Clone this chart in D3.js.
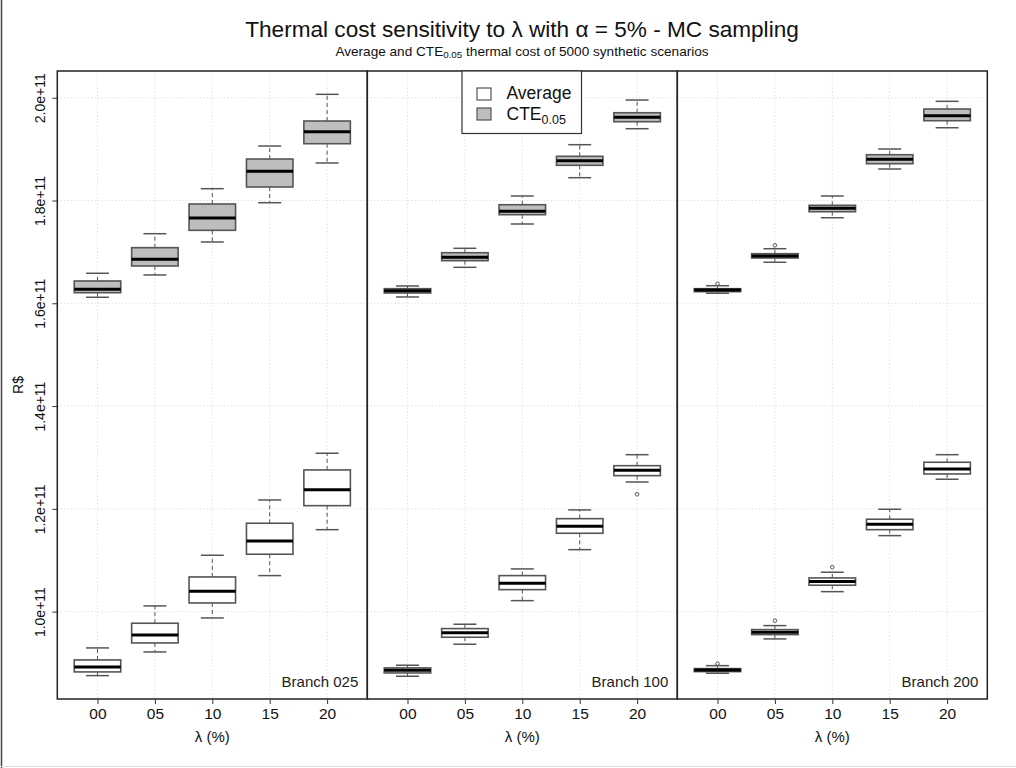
<!DOCTYPE html>
<html>
<head>
<meta charset="utf-8">
<script src="https://cdn.jsdelivr.net/npm/d3@7"></script>
<style>
  html, body { margin: 0; padding: 0; background: #fff; }
  svg { display: block; font-family: "Liberation Sans", Arial, Helvetica, sans-serif; }
</style>
</head>
<body>
<svg id="chart" width="1016" height="768"></svg>
<script>
// Thermal cost (billions of R$) per branch and λ level.
// Each row is a five-number summary: [lower whisker, Q1, median, Q3, upper whisker].
const branches = ["Branch 025", "Branch 100", "Branch 200"];
const lambdas = ["00", "05", "10", "15", "20"];
const yTickValues = [1.0e11, 1.2e11, 1.4e11, 1.6e11, 1.8e11, 2.0e11];
const yTickLabels = ["1.0e+11", "1.2e+11", "1.4e+11", "1.6e+11", "1.8e+11", "2.0e+11"];
const seriesNames = ["Average", "CTE"];

const avgBranch025 = [
  [87.55, 88.27, 89.24, 90.60, 92.94],
  [92.16, 93.91, 95.47, 97.74, 101.11],
  [98.77, 101.69, 103.97, 106.75, 110.97],
  [107.01, 111.17, 113.75, 117.20, 121.73],
  [115.95, 120.62, 123.74, 127.57, 130.82]
];
const cteBranch025 = [
  [161.17, 162.06, 162.72, 164.34, 165.84],
  [165.51, 167.26, 168.56, 170.82, 173.54],
  [171.93, 174.20, 176.60, 179.32, 182.30],
  [179.57, 182.63, 185.68, 188.07, 190.60],
  [187.30, 191.05, 193.39, 195.47, 200.66]
];
const avgBranch100 = [
  [87.43, 88.07, 88.60, 89.05, 89.57],
  [93.66, 95.02, 95.91, 96.70, 97.55],
  [102.14, 104.28, 105.53, 107.01, 108.31],
  [112.06, 115.25, 116.62, 118.09, 119.79],
  [125.23, 126.46, 127.51, 128.40, 130.54]
];
const cteBranch100 = [
  [161.23, 162.00, 162.45, 162.84, 163.37],
  [167.00, 168.29, 168.95, 169.84, 170.70],
  [175.43, 177.24, 177.90, 179.18, 180.88],
  [184.44, 186.85, 187.74, 188.60, 190.86],
  [193.97, 195.33, 196.19, 197.08, 199.55]
];
const avgBranch200 = [
  [88.01, 88.33, 88.66, 88.91, 89.49],
  [94.69, 95.53, 95.99, 96.50, 97.28],
  [103.89, 105.14, 105.84, 106.56, 107.67],
  [114.79, 115.95, 117.01, 117.98, 119.92],
  [125.76, 126.79, 127.76, 129.07, 130.54]
];
const cteBranch200 = [
  [161.95, 162.26, 162.59, 162.84, 163.42],
  [167.98, 168.81, 169.20, 169.65, 170.62],
  [176.65, 177.82, 178.48, 179.07, 180.88],
  [186.13, 187.16, 188.02, 188.91, 190.02],
  [194.16, 195.53, 196.50, 197.80, 199.30]
];
// Outlying scenarios: [branch index, series, λ, value in billions]
const outliers = [
  [1, "Average", "20", 122.84],
  [2, "Average", "00", 89.88],
  [2, "Average", "05", 98.25],
  [2, "Average", "10", 108.64],
  [2, "CTE", "00", 163.81],
  [2, "CTE", "05", 171.28]
];

const panelData = [
  { Average: avgBranch025, CTE: cteBranch025 },
  { Average: avgBranch100, CTE: cteBranch100 },
  { Average: avgBranch200, CTE: cteBranch200 }
];
const fills = { Average: "#ffffff", CTE: "#bebebe" };

const svg = d3.select("#chart");
const W = 1016, H = 768;
const plotTop = 71, plotBottom = 699;
const panelLeft0 = 57.3, panelW = 310;

// frame of the figure
svg.append("line").attr("x1", 1.5).attr("x2", 1.5).attr("y1", 0).attr("y2", H)
  .attr("stroke", "#444").attr("stroke-width", 1.5);
svg.append("line").attr("x1", 0).attr("x2", W).attr("y1", H - 1.5).attr("y2", H - 1.5)
  .attr("stroke", "#ddd").attr("stroke-width", 1);

const y = d3.scaleLinear().domain([83.0e9, 205.2e9]).range([plotBottom, plotTop]);
const B = 1e9;

// titles
svg.append("text").attr("x", 522).attr("y", 37).attr("text-anchor", "middle")
  .attr("font-size", 22.6).attr("fill", "#111")
  .text("Thermal cost sensitivity to λ with α = 5% - MC sampling");
const sub = svg.append("text").attr("x", 522).attr("y", 55.5).attr("text-anchor", "middle")
  .attr("font-size", 13.6).attr("fill", "#111");
sub.append("tspan").text("Average and CTE");
sub.append("tspan").attr("font-size", 9.8).attr("dy", 2.5).text("0.05");
sub.append("tspan").attr("dy", -2.5).text(" thermal cost of 5000 synthetic scenarios");

// y axis label
svg.append("text").attr("transform", `translate(23,${(plotTop + plotBottom) / 2}) rotate(-90)`)
  .attr("text-anchor", "middle").attr("font-size", 14).attr("fill", "#111").text("R$");

// y axis on the first panel
const yAxis = d3.axisLeft(y).tickValues(yTickValues)
  .tickFormat((d, i) => yTickLabels[i]).tickSize(5).tickSizeOuter(0);
const yg = svg.append("g").attr("transform", `translate(${panelLeft0},0)`).call(yAxis);
yg.select(".domain").remove();
yg.selectAll(".tick line").attr("stroke", "#333");
yg.selectAll(".tick text")
  .attr("transform", "rotate(-90)")
  .attr("x", 0).attr("y", -12).attr("dy", 0)
  .attr("text-anchor", "middle")
  .attr("font-size", 14).attr("fill", "#111")
  .attr("font-family", "Liberation Sans, Arial, sans-serif");

branches.forEach((branch, p) => {
  const left = panelLeft0 + p * panelW;
  const right = left + panelW;
  const x = d3.scalePoint().domain(lambdas).range([left, right]).padding(0.7);
  const step = x.step();
  const boxW = step * 0.81, capW = step * 0.4;

  const g = svg.append("g");

  // grid
  g.selectAll("line.vgrid").data(lambdas).join("line")
    .attr("x1", d => x(d)).attr("x2", d => x(d)).attr("y1", plotTop).attr("y2", plotBottom)
    .attr("stroke", "#dcdcdc").attr("stroke-dasharray", "1.2,2.2").attr("stroke-width", 1);
  g.selectAll("line.hgrid").data(yTickValues).join("line")
    .attr("x1", left).attr("x2", right).attr("y1", d => y(d)).attr("y2", d => y(d))
    .attr("stroke", "#dcdcdc").attr("stroke-dasharray", "1.2,2.2").attr("stroke-width", 1);

  // boxes
  seriesNames.forEach(s => {
    panelData[p][s].forEach((st, i) => {
      const cx = x(lambdas[i]);
      const [lw, q1, med, q3, uw] = st.map(v => y(v * B));
      const bg = g.append("g");
      bg.append("line").attr("x1", cx).attr("x2", cx).attr("y1", q3).attr("y2", uw)
        .attr("stroke", "#555").attr("stroke-dasharray", "4,3").attr("stroke-width", 1);
      bg.append("line").attr("x1", cx).attr("x2", cx).attr("y1", q1).attr("y2", lw)
        .attr("stroke", "#555").attr("stroke-dasharray", "4,3").attr("stroke-width", 1);
      bg.append("line").attr("x1", cx - capW / 2).attr("x2", cx + capW / 2).attr("y1", uw).attr("y2", uw)
        .attr("stroke", "#555").attr("stroke-width", 1.5);
      bg.append("line").attr("x1", cx - capW / 2).attr("x2", cx + capW / 2).attr("y1", lw).attr("y2", lw)
        .attr("stroke", "#555").attr("stroke-width", 1.5);
      bg.append("rect").attr("x", cx - boxW / 2).attr("width", boxW)
        .attr("y", q3).attr("height", Math.max(q1 - q3, 0.5))
        .attr("fill", fills[s]).attr("stroke", "#555").attr("stroke-width", 1.6);
      bg.append("line").attr("x1", cx - boxW / 2).attr("x2", cx + boxW / 2).attr("y1", med).attr("y2", med)
        .attr("stroke", "#000").attr("stroke-width", 3);
    });
  });

  // outliers
  g.selectAll("circle.out").data(outliers.filter(o => o[0] === p)).join("circle")
    .attr("cx", d => x(d[2])).attr("cy", d => y(d[3] * B)).attr("r", 1.8)
    .attr("fill", "none").attr("stroke", "#555").attr("stroke-width", 1);

  // panel border
  g.append("rect").attr("x", left).attr("y", plotTop).attr("width", panelW).attr("height", plotBottom - plotTop)
    .attr("fill", "none").attr("stroke", "#222").attr("stroke-width", 1.5);

  // branch label
  g.append("text").attr("x", right - 9).attr("y", 687).attr("text-anchor", "end")
    .attr("font-size", 15).attr("fill", "#222").text(branch);

  // x axis
  const xAxis = d3.axisBottom(x).tickSize(5).tickSizeOuter(0);
  const xg = svg.append("g").attr("transform", `translate(0,${plotBottom})`).call(xAxis);
  xg.select(".domain").remove();
  xg.selectAll(".tick line").attr("stroke", "#333");
  xg.selectAll(".tick text").attr("y", 9).attr("dy", "0.71em")
    .attr("font-size", 15.5).attr("fill", "#111")
    .attr("font-family", "Liberation Sans, Arial, sans-serif");

  svg.append("text").attr("x", x("10")).attr("y", 742).attr("text-anchor", "middle")
    .attr("font-size", 15).attr("fill", "#111").text("λ (%)");
});

// legend
const lg = svg.append("g");
lg.append("rect").attr("x", 462).attr("y", 71).attr("width", 119.5).attr("height", 62.5)
  .attr("fill", "#fff").attr("stroke", "#333").attr("stroke-width", 1.2);
lg.append("rect").attr("x", 477).attr("y", 88).attr("width", 14).attr("height", 12)
  .attr("fill", fills.Average).attr("stroke", "#555").attr("stroke-width", 1.2);
lg.append("rect").attr("x", 477).attr("y", 108).attr("width", 14).attr("height", 12)
  .attr("fill", fills.CTE).attr("stroke", "#555").attr("stroke-width", 1.2);
lg.append("text").attr("x", 506.5).attr("y", 98.5).attr("font-size", 17.5).attr("fill", "#111").text("Average");
const lt = lg.append("text").attr("x", 506.5).attr("y", 120).attr("font-size", 17.5).attr("fill", "#111");
lt.append("tspan").text("CTE");
lt.append("tspan").attr("font-size", 12.5).attr("dy", 3.5).text("0.05");
</script>
</body>
</html>
